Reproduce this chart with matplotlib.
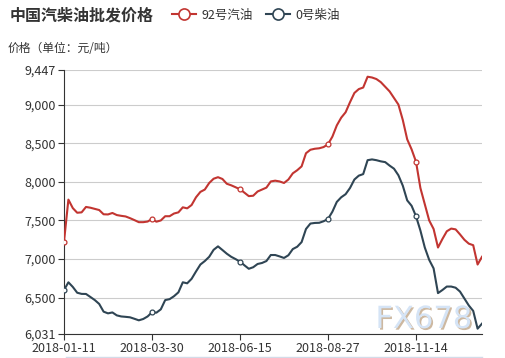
import matplotlib
matplotlib.use('Agg')
import matplotlib.pyplot as plt
import matplotlib.patheffects as pe
from matplotlib.lines import Line2D

plt.rcParams['font.family'] = ['Noto Sans CJK SC', 'DejaVu Sans']

TITLE = '中国汽柴油批发价格'
Y_NAME = '价格（单位：元/吨）'
SERIES_NAMES = ['92号汽油', '0号柴油']
TICK_LABELS = ['2018-01-11', '2018-03-30', '2018-06-15', '2018-08-27', '2018-11-14']
TICK_EVERY = 20
Y_TICKS = [6031, 6500, 7000, 7500, 8000, 8500, 9000, 9447]

# 92# gasoline
gasoline = [
    7225, 7770, 7660, 7600, 7605, 7675, 7665, 7650, 7635, 7580,
    7578, 7597, 7570, 7560, 7552, 7530, 7505, 7478, 7478, 7486,
    7519, 7484, 7500, 7555, 7555, 7590, 7605, 7670, 7657, 7700,
    7800, 7870, 7900, 7985, 8040, 8060, 8037, 7975, 7955, 7930,
    7903, 7860, 7815, 7820, 7875, 7900, 7925, 8005, 8015, 8005,
    7985, 8030, 8110, 8150, 8200, 8370, 8415, 8428, 8434, 8450,
    8486, 8585, 8730, 8830, 8900, 9030, 9150, 9200, 9220, 9360,
    9350, 9330, 9290, 9230, 9170, 9085, 9000, 8800, 8550, 8420,
    8261, 7920, 7710, 7500, 7390, 7150, 7260, 7360, 7395, 7385,
    7320, 7250, 7200, 7180, 6930, 7030,
]

# 0# diesel
diesel = [
    6600, 6700, 6640, 6565, 6550, 6549, 6510, 6470, 6420, 6320,
    6298, 6310, 6272, 6258, 6253, 6247, 6228, 6208, 6225, 6258,
    6312, 6307, 6350, 6470, 6482, 6520, 6570, 6700, 6687, 6745,
    6840, 6930, 6975, 7030, 7120, 7165, 7118, 7070, 7030, 7000,
    6967, 6920, 6875, 6895, 6937, 6950, 6975, 7053, 7053, 7035,
    7015, 7050, 7130, 7160, 7220, 7390, 7460, 7468, 7470, 7490,
    7519, 7614, 7740, 7800, 7840, 7920, 8030, 8080, 8100, 8280,
    8290, 8280, 8265, 8255, 8210, 8170, 8085, 7950, 7760, 7690,
    7555, 7370, 7150, 6990, 6880, 6560, 6600, 6645, 6645, 6630,
    6580, 6490, 6400, 6330, 6100, 6165,
]

COLORS = ['#c23531', '#2f4554']
TEXT = '#333333'

W, H = 506, 358
fig = plt.figure(figsize=(W / 100, H / 100), dpi=100)
ax = fig.add_axes([64 / W, 1 - 334 / H, (482 - 64) / W, (334 - 70) / H])

x = list(range(len(gasoline)))
marks = list(range(0, len(x), TICK_EVERY))
for vals, c in zip([gasoline, diesel], COLORS):
    ax.plot(x, vals, color=c, lw=1.5, zorder=3, solid_joinstyle='round',
            marker='o', markevery=marks, markersize=3.5,
            markerfacecolor='white', markeredgecolor=c, markeredgewidth=0.9)

ax.set_xlim(0, len(x) - 1)
ax.set_ylim(Y_TICKS[0], Y_TICKS[-1])

ax.set_yticks(Y_TICKS)
ax.set_yticklabels(['{:,}'.format(v) for v in Y_TICKS])
ax.set_xticks([i * TICK_EVERY for i in range(len(TICK_LABELS))])
ax.set_xticklabels(TICK_LABELS)

ax.tick_params(axis='both', colors=TEXT, labelsize=9, length=4, width=0.8, pad=2)
ax.tick_params(axis='y', labelcolor=TEXT)
for s in ['top', 'right']:
    ax.spines[s].set_visible(False)
for s in ['left', 'bottom']:
    ax.spines[s].set_color(TEXT)
    ax.spines[s].set_linewidth(0.8)

ax.grid(axis='y', color='#cccccc', lw=0.8)
ax.set_axisbelow(True)

# watermark
wm = ax.text(0.745, 0.0, 'FX678', transform=ax.transAxes, fontsize=22,
             family='DejaVu Sans', color='#d5e4f6', ha='left', va='bottom',
             zorder=2)
wm.set_path_effects([pe.withSimplePatchShadow(offset=(1.2, -1.2),
                                               shadow_rgbFace='#b89a78', alpha=0.7)])

fig.text(10 / W, 1 - 16 / H, TITLE, fontsize=11.5, fontweight='bold',
         color=TEXT, ha='left', va='center')
fig.text(8 / W, 1 - 49 / H, Y_NAME, fontsize=8.5, color=TEXT,
         ha='left', va='center')

handles = [Line2D([], [], color=c, lw=1.5, marker='o', markersize=8,
                  markerfacecolor='white', markeredgecolor=c, markeredgewidth=1.2)
           for c in COLORS]
fig.legend(handles, SERIES_NAMES, loc='center left',
           bbox_to_anchor=(172 / W, 1 - 15 / H), ncol=2, frameon=False,
           fontsize=9, handlelength=1.9, handletextpad=0.5, columnspacing=1.0,
           borderaxespad=0, borderpad=0, labelcolor=TEXT)

fig.add_artist(Line2D([66 / W, 482 / W], [1 - 357 / H] * 2,
                      transform=fig.transFigure, color='#d3dbe8', lw=1))

fig.savefig('out.png', dpi=100)
